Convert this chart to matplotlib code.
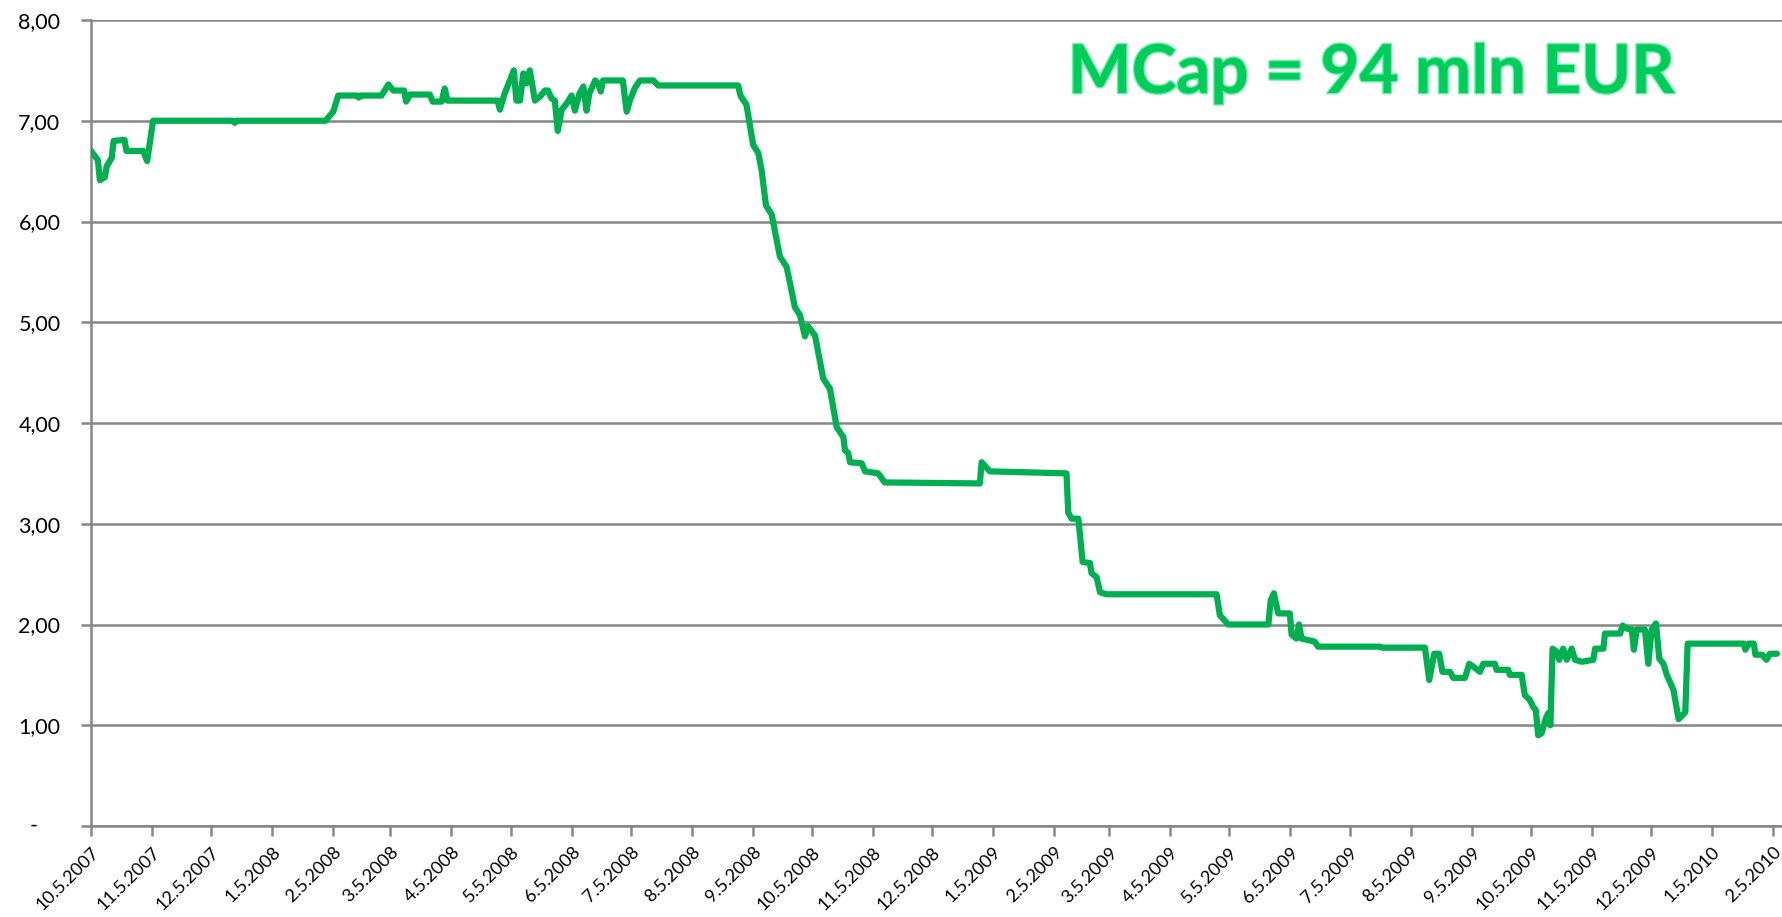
import matplotlib
matplotlib.use("Agg")
import matplotlib.pyplot as plt
import matplotlib.transforms as mtransforms
import matplotlib.patheffects as pe
import pandas as pd

# ---- data ----
start_date = "2007-10-05"
day_offsets = [0, 3.5, 4.5, 7, 8, 10.5, 11.5, 17, 18, 26.5, 28.5, 31.5, 72, 73, 74, 119, 123, 125.5,
               135, 136, 137, 147.5, 151, 153.5, 159, 160, 162, 172, 173.5, 178, 179.6, 181, 206.5,
               207.6, 210, 212.7, 214.7, 216, 217.8, 219.5, 221, 222.8, 225.4, 228, 230.5, 232, 233.9,
               235.5, 237, 239, 241.5, 244, 245.7, 248, 250, 251.6, 253, 256, 257.5, 258.8, 260, 270,
               272, 273.6, 276, 278.7, 285.5, 288, 328.6, 329.5, 330, 332.8, 336.2, 338.8, 340.5,
               342.7, 345.6, 349.8, 353.2, 357.4, 360, 362.5, 364, 367.6, 371.8, 375.2, 378.6, 382,
               382.8, 384.5, 385.4, 391.3, 393, 399.7, 403, 451.3, 452.2, 456.4, 495.3, 496.2, 497.9,
               501.3, 502.1, 503.5, 507.2, 508, 510.6, 512.3, 515.6, 571.5, 573.2, 577.4, 597.8, 599,
               600.6, 602.8, 608.7, 609.6, 612, 613.4, 614.6, 617, 621.3, 623, 654.4, 655.5, 677.3,
               679.5, 682, 684.5, 686.2, 690, 691.7, 697.6, 699.8, 702.7, 705.2, 706.9, 712.8, 713.7,
               719.6, 720.4, 726.4, 728, 730.6, 732.3, 733.6, 734.8, 736.5, 738.7, 739.9, 741, 742.1,
               744.2, 745.5, 747.5, 749.3, 751.8, 753.5, 756.9, 762.8, 763.7, 767.9, 768.7, 776.4,
               777.7, 779.7, 782.3, 783.4, 784.8, 789, 790.7, 792.4, 794.6, 796.3, 798.4, 800.1,
               803.5, 804.4, 806.1, 809.5, 810.7, 839.2, 840, 841.7, 844.3, 845.1, 848.5, 850.7,
               852.4, 856]
prices = [6.70, 6.61, 6.41, 6.44, 6.55, 6.63, 6.80, 6.81, 6.70, 6.70, 6.60, 7.00, 7.00, 6.98, 7.00,
          7.00, 7.09, 7.25, 7.25, 7.23, 7.25, 7.25, 7.36, 7.30, 7.30, 7.19, 7.26, 7.26, 7.19, 7.19,
          7.32, 7.20, 7.20, 7.11, 7.27, 7.40, 7.50, 7.20, 7.20, 7.47, 7.37, 7.50, 7.20, 7.24, 7.30,
          7.30, 7.22, 7.20, 6.90, 7.11, 7.17, 7.25, 7.10, 7.27, 7.34, 7.10, 7.27, 7.40, 7.37, 7.29,
          7.40, 7.40, 7.09, 7.20, 7.32, 7.40, 7.40, 7.35, 7.35, 7.27, 7.24, 7.16, 6.76, 6.68, 6.51,
          6.16, 6.07, 5.65, 5.55, 5.15, 5.07, 4.86, 4.96, 4.87, 4.44, 4.34, 3.96, 3.86, 3.73, 3.70,
          3.61, 3.60, 3.52, 3.50, 3.41, 3.40, 3.61, 3.52, 3.50, 3.11, 3.05, 3.05, 2.90, 2.62, 2.61,
          2.51, 2.47, 2.32, 2.30, 2.30, 2.09, 2.00, 2.00, 2.24, 2.31, 2.11, 2.11, 1.90, 1.86, 2.00,
          1.86, 1.85, 1.83, 1.78, 1.78, 1.77, 1.77, 1.45, 1.71, 1.71, 1.53, 1.53, 1.47, 1.47, 1.61,
          1.57, 1.53, 1.61, 1.61, 1.55, 1.55, 1.50, 1.50, 1.30, 1.25, 1.18, 1.15, 0.90, 0.92, 1.07,
          1.12, 1.00, 1.76, 1.73, 1.65, 1.76, 1.65, 1.76, 1.65, 1.63, 1.65, 1.76, 1.76, 1.91, 1.91,
          1.99, 1.96, 1.95, 1.75, 1.95, 1.95, 1.61, 1.95, 2.01, 1.66, 1.61, 1.50, 1.35, 1.25, 1.06,
          1.13, 1.81, 1.81, 1.75, 1.81, 1.81, 1.70, 1.70, 1.65, 1.71, 1.71]

tick_dates = ["2007-10-05", "2007-11-05", "2007-12-05", "2008-01-05", "2008-02-05", "2008-03-05",
              "2008-04-05", "2008-05-05", "2008-06-05", "2008-07-05", "2008-08-05", "2008-09-05",
              "2008-10-05", "2008-11-05", "2008-12-05", "2009-01-05", "2009-02-05", "2009-03-05",
              "2009-04-05", "2009-05-05", "2009-06-05", "2009-07-05", "2009-08-05", "2009-09-05",
              "2009-10-05", "2009-11-05", "2009-12-05", "2010-01-05", "2010-02-05"]
tick_labels = ["10.5.2007", "11.5.2007", "12.5.2007", "1.5.2008", "2.5.2008", "3.5.2008",
               "4.5.2008", "5.5.2008", "6.5.2008", "7.5.2008", "8.5.2008", "9.5.2008",
               "10.5.2008", "11.5.2008", "12.5.2008", "1.5.2009", "2.5.2009", "3.5.2009",
               "4.5.2009", "5.5.2009", "6.5.2009", "7.5.2009", "8.5.2009", "9.5.2009",
               "10.5.2009", "11.5.2009", "12.5.2009", "1.5.2010", "2.5.2010"]
y_ticks = [0, 1, 2, 3, 4, 5, 6, 7, 8]
y_labels = ["-", "1,00", "2,00", "3,00", "4,00", "5,00", "6,00", "7,00", "8,00"]
annotation = "MCap = 94 mln EUR"

# ---- figure ----
plt.rcParams["font.family"] = ["Lato", "DejaVu Sans"]
W, H = 1782, 917
fig = plt.figure(figsize=(W / 100, H / 100), dpi=100)
ax = fig.add_axes([91 / W, 1 - 826 / H, 1 - 91 / W, (826 - 20) / H])

base = pd.Timestamp(start_date)
dates = base + pd.to_timedelta(day_offsets, unit="D")
ax.plot(dates, prices, color="#00b050", lw=4.5, solid_joinstyle="round",
        solid_capstyle="round", zorder=3)

grid_c = "#868686"
ax.set_ylim(0, 8)
ax.set_xlim(base, base + pd.Timedelta(days=858.6))
ax.set_yticks(y_ticks)
ax.set_yticklabels(["" if l == "-" else l for l in y_labels], fontsize=15.5)
ax.yaxis.grid(True, color=grid_c, lw=1.8, zorder=1)
ax.set_axisbelow(True)

tk = pd.to_datetime(tick_dates)
ax.set_xticks(tk)
ax.set_xticklabels(tick_labels, rotation=45, ha="right", va="top",
                   rotation_mode="anchor", fontsize=13)

for s in ["top", "right"]:
    ax.spines[s].set_visible(False)
for s in ["left", "bottom"]:
    ax.spines[s].set_color(grid_c)
    ax.spines[s].set_linewidth(1.8)
ax.tick_params(axis="both", direction="out", color=grid_c, width=1.8, length=7)
ax.tick_params(axis="y", pad=15)
ax.tick_params(axis="x", pad=6)

# zero label drawn as accounting-style dash, left of the other labels' comma
dash_tr = ax.get_yaxis_transform() + mtransforms.ScaledTranslation(-57 / 100, 0, fig.dpi_scale_trans)
ax.text(0, y_ticks[0], y_labels[0], transform=dash_tr, fontsize=15.5, ha="center", va="center")

t = fig.text(1068 / W, 1 - 93 / H, annotation, fontsize=48.5, fontweight="bold",
             color="#00cc5c", ha="left", va="baseline")
t.set_path_effects([pe.Stroke(linewidth=2, foreground="#66f0a6"), pe.Normal()])

fig.savefig("out.png", dpi=100)
